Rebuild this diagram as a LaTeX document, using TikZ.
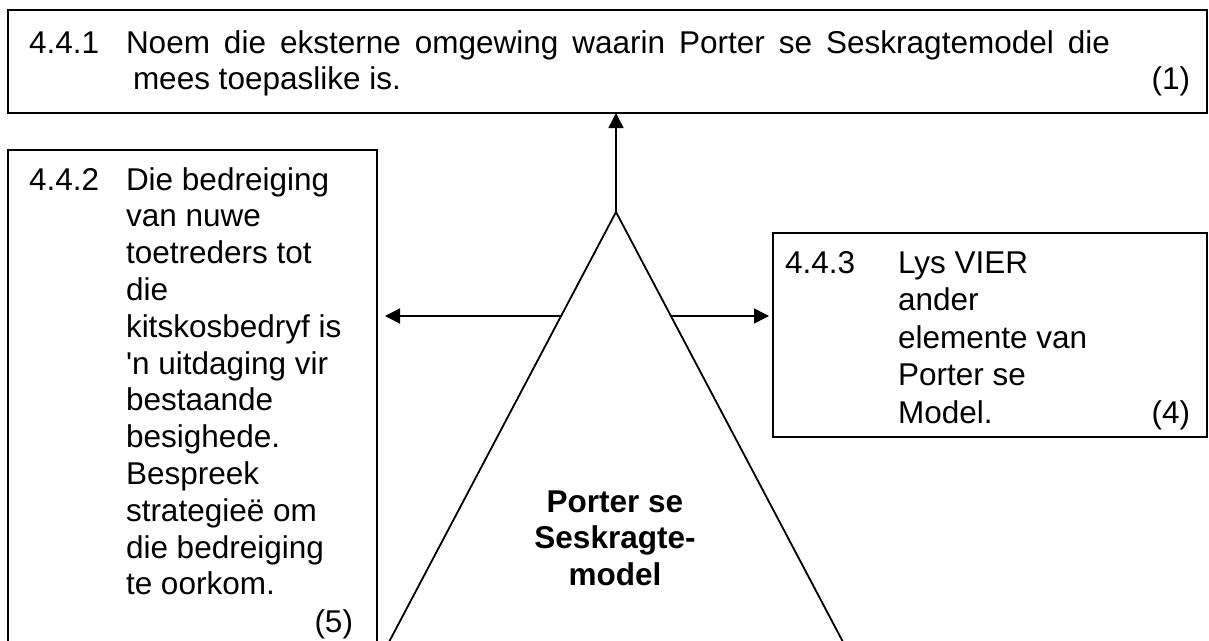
\documentclass[tikz,border=0pt]{standalone}
\usepackage{fontspec}
\setmainfont{Liberation Sans}[Ligatures=TeXOff]
\usetikzlibrary{arrows.meta}
\begin{document}
\begin{tikzpicture}[x=1pt,y=-1pt,
  box/.style={draw, line width=1.8pt, inner sep=0pt, outer sep=0pt, anchor=north west},
  txt/.style={inner sep=0pt, outer sep=0pt, anchor=base west, font=\fontsize{31.5}{36.8}\selectfont},
  txtr/.style={txt, anchor=base east},
  boldtxt/.style={inner sep=0pt, outer sep=0pt, anchor=base, font=\fontsize{31.5}{36.8}\selectfont\bfseries},
  arr/.style={line width=1.5pt, -{Triangle[width=15pt,length=15pt]}},
  tri/.style={line width=1.8pt}]
\useasboundingbox (0,0) rectangle (1209,640);
\clip (0,0) rectangle (1209,640);
% boxes
\node[box, minimum width=1199pt, minimum height=103pt] (q1) at (8,10) {};
\node[box, minimum width=369pt, minimum height=520pt] (q2) at (8,150) {};
\node[box, minimum width=434pt, minimum height=204pt] (q3) at (773,233) {};
% triangle
\coordinate (apex) at (616,212);
\coordinate (bl) at (379.5,660);
\coordinate (br) at (852.5,660);
\coordinate (ls) at (561,316);
\coordinate (rs) at (671,316);
\draw[tri] (bl) -- (apex) -- (br);
% arrows
\draw[arr] (apex) -- (apex |- q1.south);
\draw[arr, shorten >=8pt] (ls) -- (ls -| q2.east);
\draw[arr, shorten >=4pt] (rs) -- (rs -| q3.west);
% top box text
\node[txt] (n1) at (29,53) {4.4.1};
\node[txt] (t1a) at (126,53) {\makebox[984pt][s]{Noem die eksterne omgewing waarin Porter se Seskragtemodel die}};
\node[txt] (t1b) at (133,89) {mees toepaslike is.};
\node[txtr] (m1) at (1190,89) {(1)};
% left box text
\node[txt] (n2) at (29,190) {4.4.2};
\foreach \t [count=\i from 0] in {Die bedreiging,van nuwe,toetreders tot,die,kitskosbedryf is,'n uitdaging vir,bestaande,besighede.,Bespreek,strategieë om,die bedreiging,te oorkom.}
  \node[txt] (t2-\i) at (126,{190+36.8*\i}) {\t};
\node[txtr] (m2) at (353,632) {(5)};
% right box text
\node[txt] (n3) at (785,273) {4.4.3};
\foreach \t [count=\i from 0] in {Lys VIER,ander,elemente van,Porter se,Model.}
  \node[txt] (t3-\i) at (898,{273+37.5*\i}) {\t};
\node[txtr] (m3) at (1190,423) {(4)};
% centre label
\node[boldtxt] (c1) at (615,512) {Porter se};
\node[boldtxt] (c2) at (615,548) {Seskragte-};
\node[boldtxt] (c3) at (615,585) {model};
\end{tikzpicture}
\end{document}
